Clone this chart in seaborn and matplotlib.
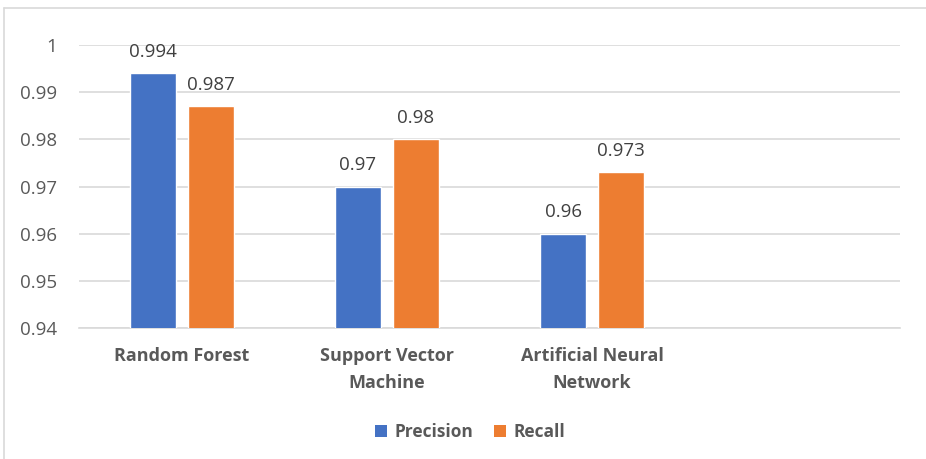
import matplotlib
matplotlib.use("Agg")
import matplotlib.pyplot as plt
from matplotlib.lines import Line2D
from matplotlib.patches import Patch
import seaborn as sns
import pandas as pd

models = ["Random Forest", "Support Vector\nMachine", "Artificial Neural\nNetwork"]
precision = [0.994, 0.97, 0.96]
recall = [0.987, 0.98, 0.973]
series = ["Precision", "Recall"]
colors = ["#4472C4", "#ED7D31"]
yticks = [0.94, 0.95, 0.96, 0.97, 0.98, 0.99, 1.0]
ytick_labels = ["0.94", "0.95", "0.96", "0.97", "0.98", "0.99", "1"]

df = pd.DataFrame({
    "Model": models * 2,
    "Metric": [series[0]] * len(models) + [series[1]] * len(models),
    "Score": precision + recall,
})

sns.set_theme(style="white")
plt.rcParams["font.family"] = ["Open Sans", "DejaVu Sans"]

fig = plt.figure(figsize=(9.26, 4.59), dpi=100)
ax = fig.add_axes([79 / 926, 1 - 328 / 459, 821 / 926, 283 / 459])

sns.barplot(data=df, x="Model", y="Score", hue="Metric", order=models,
            hue_order=series, palette=colors, width=0.565, gap=0.207,
            saturation=1, legend=False, ax=ax, zorder=3)

ax.set_ylim(0.94, 1.0)
ax.set_xlim(-0.5, 3.5)
ax.set_yticks(yticks)
ax.set_yticklabels(ytick_labels)
ax.yaxis.grid(True, color="#D9D9D9", linewidth=1.2, zorder=0)
ax.set_axisbelow(True)
for s in ["top", "right", "left"]:
    ax.spines[s].set_visible(False)
ax.spines["bottom"].set_color("#D9D9D9")
ax.spines["bottom"].set_linewidth(1.2)
ax.set_xlabel("")
ax.set_ylabel("")
ax.tick_params(axis="y", length=0, pad=16, labelsize=13.5, labelcolor="#595959")
ax.tick_params(axis="x", length=0, pad=14, labelsize=13, labelcolor="#595959")
for lbl in ax.get_xticklabels():
    lbl.set_fontweight("bold")
    lbl.set_linespacing(1.6)

for cont in ax.containers:
    labels = [f"{v:g}" for v in cont.datavalues]
    ax.bar_label(cont, labels=labels, padding=9, fontsize=13.5, color="#404040")

handles = [Patch(facecolor=c, edgecolor="none") for c in colors]
fig.legend(handles, series, loc="center", bbox_to_anchor=(470 / 926, 1 - 432 / 459),
           ncol=2, frameon=False, prop={"weight": "bold", "size": 12.5},
           labelcolor="#595959", handlelength=0.72, handleheight=0.72,
           handletextpad=0.4, columnspacing=1.2)

# light chart border along the left and top edges
fig.add_artist(Line2D([4 / 926, 4 / 926], [0, 1 - 8 / 459], transform=fig.transFigure,
                      color="#D9D9D9", linewidth=1.2))
fig.add_artist(Line2D([4 / 926, 1], [1 - 8 / 459, 1 - 8 / 459], transform=fig.transFigure,
                      color="#D9D9D9", linewidth=1.2))

fig.savefig("out.png", dpi=100)
